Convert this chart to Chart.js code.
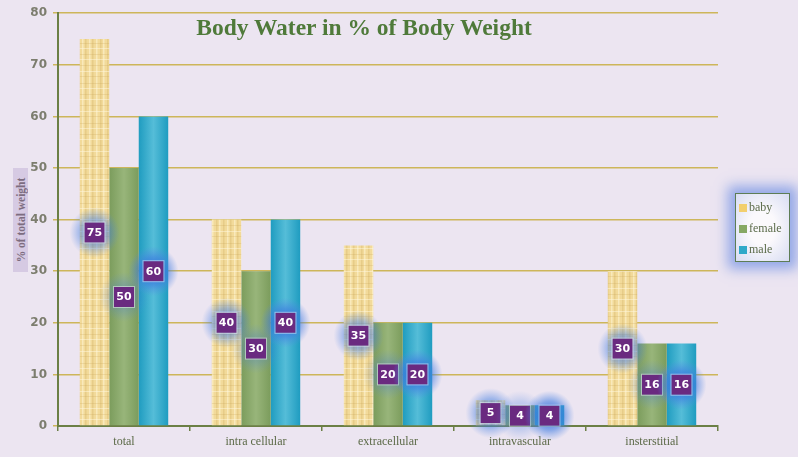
<!DOCTYPE html>
<html>
<head>
<meta charset="utf-8">
<script src="https://cdn.jsdelivr.net/npm/chart.js@4.4.1/dist/chart.umd.min.js"></script>
<style>
  html, body { margin: 0; padding: 0; background: #ece5f1; }
  #wrap { position: relative; width: 798px; height: 457px; overflow: hidden; }
  #title {
    position: absolute; left: 58px; width: 612px; top: 14px; text-align: center;
    font: bold 23.5px "Liberation Serif", "DejaVu Serif", serif; color: #4f7a3a;
  }
  #ytitle {
    position: absolute; left: 13px; top: 168px; width: 15px; height: 104px;
    background: #d6cae3;
  }
  #ytitle span {
    position: absolute; left: 50%; top: 50%; white-space: nowrap;
    transform: translate(-50%, -50%) rotate(-90deg);
    font: bold 11.5px "Liberation Serif", "DejaVu Serif", serif; color: #7d6d80;
  }
  #legend {
    position: absolute; left: 735px; top: 193px; width: 55px; height: 69px;
    border: 1.5px solid #5d7d55; box-sizing: border-box;
    background: radial-gradient(ellipse at center, #fbf9fc 35%, #d8ddf3 100%);
    box-shadow: 0 0 12px 7px rgba(85, 125, 225, 0.6);
  }
  .li { position: absolute; left: 3px; font: 12px "Liberation Serif", "DejaVu Serif", serif; color: #5b6b4a; }
  .li i { display: inline-block; width: 8px; height: 8px; margin-right: 2px; vertical-align: -1px; }
</style>
</head>
<body>
<div id="wrap">
  <canvas id="chart" width="798" height="457"></canvas>
  <div id="title">Body Water in % of Body Weight</div>
  <div id="ytitle"><span>% of total weight</span></div>
  <div id="legend"></div>
</div>
<script>
// === DATA ===
const categories = ["total", "intra cellular", "extracellular", "intravascular", "insterstitial"];
const seriesNames = ["baby", "female", "male"];
const babyValues = [75, 40, 35, 5, 30];
const femaleValues = [50, 30, 20, 4, 16];
const maleValues = [60, 40, 20, 4, 16];
const yTicks = [0, 10, 20, 30, 40, 50, 60, 70, 80];

const legendColors = ["#f2cf6e", "#86a864", "#2fa9c9"];

// parchment texture for the baby bars
function parchment() {
  const c = document.createElement("canvas");
  c.width = 29; c.height = 40;
  const g = c.getContext("2d");
  g.fillStyle = "#f2da9a";
  g.fillRect(0, 0, 29, 40);
  // soft vertical streaks
  const cols = [2, 5, 9, 13, 16, 20, 24, 27];
  cols.forEach((x, k) => {
    g.fillStyle = (k % 2) ? "rgba(205,170,90,0.28)" : "rgba(255,246,215,0.55)";
    g.fillRect(x, 0, 1.5, 40);
  });
  // faint horizontal fibres
  const rows = [3, 8, 14, 19, 25, 31, 36];
  rows.forEach((y, k) => {
    g.fillStyle = (k % 2) ? "rgba(255,248,222,0.5)" : "rgba(195,160,80,0.22)";
    g.fillRect(0, y, 29, 1);
  });
  return g.createPattern(c, "repeat");
}

// left/right shading like the reference bars
function shaded(chart, edge, mid) {
  return (ctx) => {
    const el = ctx.element;
    if (!el || !isFinite(el.x)) return mid;
    const w = el.width || 29;
    const g = chart.ctx.createLinearGradient(el.x - w / 2, 0, el.x + w / 2, 0);
    g.addColorStop(0, edge);
    g.addColorStop(0.5, mid);
    g.addColorStop(1, edge);
    return g;
  };
}

// purple value boxes with glow
const boxLabels = {
  id: "boxLabels",
  afterDatasetsDraw(chart) {
    const ctx = chart.ctx;
    const y = chart.scales.y;
    const glows = [0.7, 0.35, 0.9];
    chart.data.datasets.forEach((ds, di) => {
      chart.getDatasetMeta(di).data.forEach((bar, i) => {
        const v = ds.data[i];
        const cy = y.getPixelForValue(v / 2);
        const cx = bar.x;
        ctx.save();
        const r = 25;
        const a = glows[di];
        const rg = ctx.createRadialGradient(cx, cy, 4, cx, cy, r);
        rg.addColorStop(0, "rgba(45,105,220," + a + ")");
        rg.addColorStop(0.5, "rgba(65,125,225," + (a * 0.65) + ")");
        rg.addColorStop(1, "rgba(90,140,230,0)");
        ctx.fillStyle = rg;
        ctx.fillRect(cx - r, cy - r, r * 2, r * 2);
        ctx.fillStyle = "#6a2a80";
        ctx.fillRect(cx - 10, cy - 10, 20, 20);
        ctx.strokeStyle = "rgba(255,255,255,0.45)";
        ctx.lineWidth = 1;
        ctx.strokeRect(cx - 10.5, cy - 10.5, 21, 21);
        ctx.fillStyle = "#ffffff";
        ctx.font = "bold 11px 'DejaVu Sans', sans-serif";
        ctx.textAlign = "center";
        ctx.textBaseline = "middle";
        ctx.fillText(String(v), cx, cy + 0.5);
        ctx.restore();
      });
    });
  }
};

const bg = {
  id: "bg",
  beforeDraw(chart) {
    const ctx = chart.ctx;
    ctx.save();
    ctx.fillStyle = "#ece5f1";
    ctx.fillRect(0, 0, chart.width, chart.height);
    ctx.restore();
  }
};

const cv = document.getElementById("chart");
const chart = new Chart(cv, {
  type: "bar",
  data: {
    labels: categories,
    datasets: [
      { label: seriesNames[0], data: babyValues, backgroundColor: parchment() },
      { label: seriesNames[1], data: femaleValues, backgroundColor: "#8cab6c" },
      { label: seriesNames[2], data: maleValues, backgroundColor: "#36acca" }
    ]
  },
  options: {
    responsive: false,
    animation: false,
    layout: { padding: { top: 9, right: 80, bottom: 0, left: 0 } },
    datasets: { bar: { categoryPercentage: 0.67, barPercentage: 1.0 } },
    plugins: { legend: { display: false }, tooltip: { enabled: false } },
    scales: {
      x: {
        grid: { display: true, drawOnChartArea: false, offset: true, color: "#6b7f45", tickLength: 5, lineWidth: 1.5 },
        border: { color: "#6b7f45", width: 2 },
        ticks: { color: "#5c6a48", font: { family: "'Liberation Serif', serif", size: 12 }, padding: 4 },
        afterFit(s) { s.height = 31; }
      },
      y: {
        min: 0, max: 80,
        afterBuildTicks(s) { s.ticks = yTicks.map(v => ({ value: v })); },
        grid: { color: "#cdb65a", lineWidth: 1.5, tickLength: 5, drawTicks: true },
        border: { color: "#6b7f45", width: 2 },
        ticks: { color: "#7c7d6e", font: { family: "'DejaVu Sans', sans-serif", size: 12, weight: "bold" }, padding: 6 },
        afterFit(s) { s.width = 58; }
      }
    }
  },
  plugins: [bg, boxLabels]
});

// apply shading once the bars have positions
chart.data.datasets[1].backgroundColor = shaded(chart, "#7b9c5c", "#98b57a");
chart.data.datasets[2].backgroundColor = shaded(chart, "#1f9cc0", "#55bdd8");
chart.update();

// legend
const legend = document.getElementById("legend");
seriesNames.forEach((name, i) => {
  const d = document.createElement("div");
  d.className = "li";
  d.style.top = (6 + i * 21) + "px";
  d.innerHTML = `<i style="background:${legendColors[i]}"></i>${name}`;
  legend.appendChild(d);
});
</script>
</body>
</html>
